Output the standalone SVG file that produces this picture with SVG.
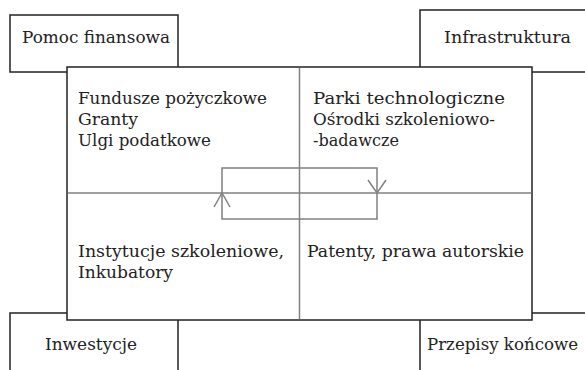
<svg xmlns="http://www.w3.org/2000/svg" width="585" height="370" viewBox="0 0 585 370">
<style>
.box{fill:#fff;stroke:#222;stroke-width:1.5}
.t{font-family:"DejaVu Serif","Liberation Serif",serif;font-size:16.5px;fill:#222}
.g{fill:none;stroke:#808080;stroke-width:1.5}
</style>
<rect width="585" height="370" fill="#fff"/>
<g id="pomoc-finansowa">
<rect class="box" x="10" y="15" width="168" height="57"/>
<text class="t" x="22" y="43" textLength="148" lengthAdjust="spacingAndGlyphs">Pomoc finansowa</text>
</g>
<g id="infrastruktura">
<rect class="box" x="420" y="10" width="180" height="62"/>
<text class="t" x="444" y="43" textLength="127" lengthAdjust="spacingAndGlyphs">Infrastruktura</text>
</g>
<g id="inwestycje">
<rect class="box" x="10" y="313" width="168" height="70"/>
<text class="t" x="45" y="350" textLength="92" lengthAdjust="spacingAndGlyphs">Inwestycje</text>
</g>
<g id="przepisy-koncowe">
<rect class="box" x="420" y="313" width="180" height="70"/>
<text class="t" x="427" y="350" textLength="151" lengthAdjust="spacingAndGlyphs">Przepisy końcowe</text>
</g>
<g id="main">
<rect class="box" x="67" y="67" width="465" height="253"/>
<text class="t" x="78" y="104" textLength="189" lengthAdjust="spacingAndGlyphs">Fundusze pożyczkowe</text>
<text class="t" x="78" y="125" textLength="60" lengthAdjust="spacingAndGlyphs">Granty</text>
<text class="t" x="78" y="146" textLength="133" lengthAdjust="spacingAndGlyphs">Ulgi podatkowe</text>
<text class="t" x="313" y="104" textLength="192" lengthAdjust="spacingAndGlyphs">Parki technologiczne</text>
<text class="t" x="313" y="125" textLength="182" lengthAdjust="spacingAndGlyphs">Ośrodki szkoleniowo-</text>
<text class="t" x="313" y="146" textLength="86" lengthAdjust="spacingAndGlyphs">-badawcze</text>
<text class="t" x="78" y="257" textLength="206" lengthAdjust="spacingAndGlyphs">Instytucje szkoleniowe,</text>
<text class="t" x="78" y="278" textLength="95" lengthAdjust="spacingAndGlyphs">Inkubatory</text>
<text class="t" x="307" y="257" textLength="217" lengthAdjust="spacingAndGlyphs">Patenty, prawa autorskie</text>
</g>
<g id="connectors">
<line class="g" x1="299.5" y1="67.75" x2="299.5" y2="319.25"/>
<line class="g" x1="67.75" y1="193" x2="531.25" y2="193"/>
<rect class="g" x="222" y="168" width="155" height="51"/>
<polyline class="g" points="214,207 222,193 230,207"/>
<polyline class="g" points="368,180 377,193 386,180"/>
</g>
</svg>
